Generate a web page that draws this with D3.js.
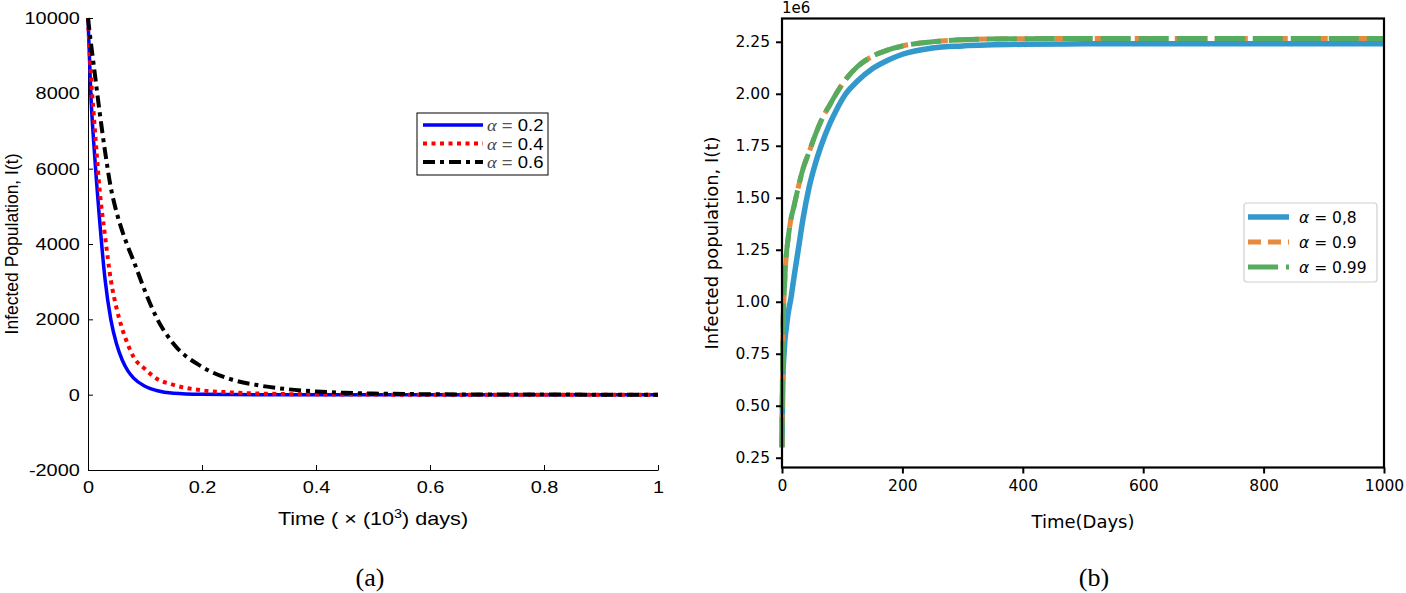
<!DOCTYPE html>
<html>
<head>
<meta charset="utf-8">
<script src="https://cdn.jsdelivr.net/npm/d3@7"></script>
<style>
  body { margin: 0; background: #fff; }
  svg { display: block; }
</style>
</head>
<body>
<div class="chart"></div>
<script>
// ---- panel (a) data ----
const timeA = [0, 0.005, 0.01, 0.015, 0.02, 0.03, 0.04, 0.05, 0.06, 0.07, 0.08, 0.1, 0.12, 0.15, 0.2, 0.25, 0.3, 0.35, 0.4, 0.45, 0.5, 0.6, 0.7, 0.8, 1.0];
const alpha02 = [10000, 7960, 6700, 5650, 4700, 3050, 2000, 1350, 920, 630, 440, 225, 112, 36, 8, 2, 0, 0, 0, 0, 0, 0, 0, 0, 0];
const alpha04 = [10000, 8500, 7450, 6450, 5500, 4200, 3050, 2300, 1750, 1330, 1000, 680, 430, 260, 115, 60, 30, 15, 8, 4, 2, 0, 0, 0, 0];
const alpha06 = [10000, 9350, 8750, 8150, 7550, 6450, 5500, 4850, 4350, 3930, 3550, 2750, 2050, 1350, 740, 410, 245, 145, 85, 50, 30, 12, 5, 2, 0];
const ticksAx = [0, 0.2, 0.4, 0.6, 0.8, 1];
const ticksAy = [-2000, 0, 2000, 4000, 6000, 8000, 10000];
const labelsA = ["0.2", "0.4", "0.6"];

// ---- panel (b) data ----
const timeB = [0, 1, 2, 3, 5, 7, 10, 15, 20, 27, 35, 45, 55, 65, 80, 90, 106, 125, 150, 175, 200, 250, 300, 400, 500, 600, 800, 1000];
const alpha08 = [0.30, 0.55, 0.68, 0.73, 0.82, 0.87, 0.94, 1.02, 1.12, 1.25, 1.40, 1.55, 1.66, 1.75, 1.86, 1.92, 2.00, 2.06, 2.12, 2.16, 2.19, 2.22, 2.23, 2.238, 2.24, 2.24, 2.24, 2.24];
const alpha09 = [0.30, 0.72, 0.92, 1.00, 1.13, 1.22, 1.30, 1.40, 1.46, 1.55, 1.64, 1.72, 1.80, 1.87, 1.95, 2.00, 2.07, 2.13, 2.18, 2.21, 2.23, 2.25, 2.26, 2.265, 2.266, 2.266, 2.266, 2.266];
const alpha099 = [0.30, 0.72, 0.92, 1.00, 1.13, 1.22, 1.30, 1.40, 1.46, 1.55, 1.64, 1.72, 1.80, 1.87, 1.95, 2.00, 2.07, 2.13, 2.18, 2.21, 2.23, 2.25, 2.26, 2.265, 2.266, 2.266, 2.266, 2.266];
const ticksBx = [0, 200, 400, 600, 800, 1000];
const ticksBy = [0.25, 0.5, 0.75, 1.0, 1.25, 1.5, 1.75, 2.0, 2.25];
const labelsB = ["0,8", "0.9", "0.99"];

const width = 1406;
const height = 593;
const svg = d3.select(".chart").append("svg")
  .attr("width", width)
  .attr("height", height);

const sansA = "'Liberation Sans', Arial, sans-serif";
const sansB = "'DejaVu Sans', sans-serif";
const stretchA = "scale(1.17,1)"; // left figure text is a bit wider than plain Arial

// ================= panel (a) =================
const xA = d3.scaleLinear().domain([0, 1]).range([88, 658]);
const yA = d3.scaleLinear().domain([-2000, 10000]).range([470, 18]);

const gA = svg.append("g");

gA.append("g")
  .attr("transform", "translate(0,470)")
  .call(d3.axisBottom(xA).tickValues(ticksAx).tickSizeInner(-5).tickSizeOuter(0).tickPadding(11)
    .tickFormat(d => d === 0 || d === 1 ? d : d.toFixed(1)))
  .call(g => g.selectAll("text").attr("font-size", 17).attr("font-family", sansA).attr("fill", "#000").attr("transform", stretchA));

gA.append("g")
  .attr("transform", "translate(88,0)")
  .call(d3.axisLeft(yA).tickValues(ticksAy).tickSizeInner(-5).tickSizeOuter(0).tickPadding(7)
    .tickFormat(d => d))
  .call(g => g.selectAll("text").attr("font-size", 17).attr("font-family", sansA).attr("fill", "#000").attr("transform", stretchA));

gA.selectAll(".domain").attr("stroke", "#000");

const lineA = vals => d3.line()
  .x((d, i) => xA(timeA[i]))
  .y(d => yA(d))
  .curve(d3.curveMonotoneX)(vals);

const seriesA = [
  { vals: alpha02, color: "#0000ff", dash: null, w: 3.5 },
  { vals: alpha04, color: "#ff0000", dash: "4,4.5", w: 4 },
  { vals: alpha06, color: "#000000", dash: "12,5,4,5", w: 4 }
];

gA.selectAll("path.curve")
  .data(seriesA)
  .enter()
  .append("path")
  .attr("class", "curve")
  .attr("d", d => lineA(d.vals))
  .attr("fill", "none")
  .attr("stroke", d => d.color)
  .attr("stroke-width", d => d.w)
  .attr("stroke-dasharray", d => d.dash);

// legend (a)
gA.append("rect")
  .attr("x", 417).attr("y", 113)
  .attr("width", 131).attr("height", 62)
  .attr("fill", "#fff").attr("stroke", "#000").attr("stroke-width", 1);

seriesA.forEach((s, i) => {
  const ly = 125 + i * 18.5;
  gA.append("line")
    .attr("x1", 423).attr("x2", 483)
    .attr("y1", ly).attr("y2", ly)
    .attr("stroke", s.color)
    .attr("stroke-width", s.w)
    .attr("stroke-dasharray", s.dash);
  const t = gA.append("text")
    .attr("transform", `translate(487,${ly + 6}) scale(1.12,1)`)
    .attr("font-size", 16.5)
    .attr("font-family", sansA);
  t.append("tspan").attr("font-family", "'Liberation Serif', serif").attr("font-style", "italic").attr("fill", "#444").text("α");
  t.append("tspan").attr("fill", "#555").text(" = ");
  t.append("tspan").text(labelsA[i]);
});

// axis titles (a)
const xt = gA.append("text")
  .attr("transform", "translate(373,525) scale(1.2,1)")
  .attr("text-anchor", "middle")
  .attr("font-size", 18)
  .attr("font-family", sansA);
xt.append("tspan").text("Time ( × (10");
xt.append("tspan").attr("font-size", 12).attr("dy", -7).text("3");
xt.append("tspan").attr("dy", 7).text(") days)");

gA.append("text")
  .attr("transform", "translate(18,244) rotate(-90)")
  .attr("text-anchor", "middle")
  .attr("font-size", 17.5)
  .attr("font-family", sansA)
  .text("Infected Population, I(t)");

// ================= panel (b) =================
const xB = d3.scaleLinear().domain([0, 1000]).range([782, 1384]);
const yB = d3.scaleLinear().domain([0.203, 2.362]).range([467.5, 18.5]);

const gB = svg.append("g");

const lineB = vals => d3.line()
  .x((d, i) => xB(timeB[i]))
  .y(d => yB(d))
  .curve(d3.curveMonotoneX)(vals);

const seriesB = [
  { vals: alpha08, color: "#3399cc", dash: null, w: 5.5 },
  { vals: alpha09, color: "#e58a3e", dash: "13,7", w: 5 },
  { vals: alpha099, color: "#55ab5e", dash: "30,8", w: 5 }
];

gB.selectAll("path.curve")
  .data(seriesB)
  .enter()
  .append("path")
  .attr("class", "curve")
  .attr("d", d => lineB(d.vals))
  .attr("fill", "none")
  .attr("stroke", d => d.color)
  .attr("stroke-width", d => d.w)
  .attr("stroke-dasharray", d => d.dash);

gB.append("g")
  .attr("transform", "translate(0,467.5)")
  .call(d3.axisBottom(xB).tickValues(ticksBx).tickSize(6).tickPadding(6).tickFormat(d3.format("d")))
  .call(g => g.selectAll("text").attr("font-size", 15.5).attr("font-family", sansB).attr("fill", "#000"));

gB.append("g")
  .attr("transform", "translate(782,0)")
  .call(d3.axisLeft(yB).tickValues(ticksBy).tickSize(6).tickPadding(6).tickFormat(d3.format(".2f")))
  .call(g => g.selectAll("text").attr("font-size", 15.5).attr("font-family", sansB).attr("fill", "#000"));

gB.selectAll(".tick line").attr("stroke", "#000").attr("stroke-width", 2);
gB.selectAll(".domain").remove();

gB.append("rect")
  .attr("x", 782).attr("y", 18.5)
  .attr("width", 602).attr("height", 449)
  .attr("fill", "none").attr("stroke", "#000").attr("stroke-width", 2.2);

gB.append("text")
  .attr("x", 782).attr("y", 13)
  .attr("font-size", 15)
  .attr("font-family", sansB)
  .text("1e6");

// legend (b)
gB.append("rect")
  .attr("x", 1244).attr("y", 203)
  .attr("width", 133).attr("height", 79)
  .attr("rx", 3)
  .attr("fill", "#fff").attr("fill-opacity", 0.8)
  .attr("stroke", "#d0d0d0").attr("stroke-width", 1.2);

seriesB.forEach((s, i) => {
  const ly = 217 + i * 25;
  gB.append("line")
    .attr("x1", 1248).attr("x2", 1289)
    .attr("y1", ly).attr("y2", ly)
    .attr("stroke", s.color)
    .attr("stroke-width", s.w)
    .attr("stroke-dasharray", s.dash);
  const t = gB.append("text")
    .attr("x", 1299).attr("y", ly + 6)
    .attr("font-size", 15.5)
    .attr("font-family", sansB);
  t.append("tspan").attr("font-style", "italic").text("α");
  t.append("tspan").text(" = " + labelsB[i]);
});

gB.append("text")
  .attr("x", 1083).attr("y", 528)
  .attr("text-anchor", "middle")
  .attr("font-size", 18)
  .attr("font-family", sansB)
  .text("Time(Days)");

gB.append("text")
  .attr("transform", "translate(718,243) rotate(-90)")
  .attr("text-anchor", "middle")
  .attr("font-size", 18)
  .attr("font-family", sansB)
  .text("Infected population, I(t)");

// captions
svg.append("text")
  .attr("x", 370).attr("y", 586)
  .attr("text-anchor", "middle")
  .attr("font-size", 26)
  .attr("font-family", "'Liberation Serif', serif")
  .text("(a)");

svg.append("text")
  .attr("x", 1094).attr("y", 586)
  .attr("text-anchor", "middle")
  .attr("font-size", 26)
  .attr("font-family", "'Liberation Serif', serif")
  .text("(b)");
</script>
</body>
</html>
